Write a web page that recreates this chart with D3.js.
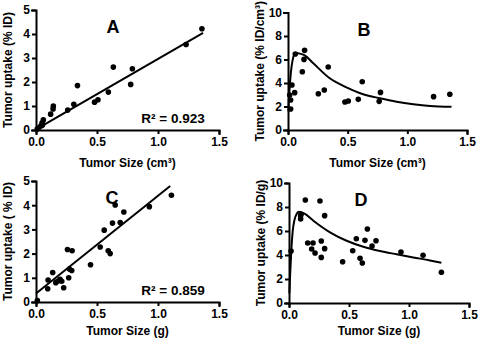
<!DOCTYPE html>
<html>
<head>
	<meta charset="utf-8">
	<title>Tumor uptake vs tumor size</title>
	<style>
		body { margin: 0; background: white; }
		svg { display: block; font-family: 'Liberation Sans', Arial, sans-serif; font-weight: bold; }
		.axis path, .axis line { stroke: black; stroke-width: 2; }
		.axis text { font-size: 12px; font-weight: bold; font-family: 'Liberation Sans', Arial, sans-serif; }
	</style>
</head>
<body>
<svg width="480" height="340"></svg>
<script src="https://d3js.org/d3.v7.min.js"></script>
<script>

	// ---- data ----
	// A: uptake (% ID) vs size (cm3)
	let sizeA = [1.36, 1.23, 0.79, 0.776, 0.634, 0.593, 0.508, 0.48, 0.34, 0.31, 0.26, 0.142, 0.14, 0.12, 0.06, 0.052, 0.04, 0.02, 0.01, 0.05]
	let uptakeA = [4.22, 3.56, 2.55, 1.9, 2.62, 1.58, 1.26, 1.16, 1.85, 1.07, 0.83, 1.0, 0.88, 0.66, 0.42, 0.2, 0.17, 0.08, 0.04, 0.3]
	let fitA = [[0, 0.03], [1.37, 4.05]]

	// B: uptake (% ID/cm3) vs size (cm3)
	let sizeB = [1.356, 1.22, 0.775, 0.764, 0.622, 0.589, 0.505, 0.477, 0.337, 0.304, 0.254, 0.139, 0.134, 0.12, 0.061, 0.056, 0.033, 0.022, 0.022, 0.014]
	let uptakeB = [3.04, 2.84, 3.2, 2.44, 4.11, 2.61, 2.47, 2.38, 5.36, 3.4, 3.09, 6.78, 6.01, 4.96, 6.47, 3.18, 3.83, 2.55, 1.79, 2.98]
	let curveBx = [0.003, 0.01, 0.024, 0.038, 0.052, 0.07, 0.1, 0.14, 0.21, 0.35, 0.49, 0.63, 0.77, 0.91, 1.05, 1.19, 1.37]
	let curveBy = [1.6, 3.0, 4.9, 5.9, 6.4, 6.55, 6.5, 6.35, 5.7, 4.4, 3.63, 3.04, 2.7, 2.41, 2.2, 2.05, 1.97]

	// C: uptake (% ID) vs size (g)
	let sizeC = [1.11, 0.929, 0.72, 0.69, 0.649, 0.627, 0.559, 0.526, 0.608, 0.592, 0.447, 0.296, 0.258, 0.293, 0.274, 0.268, 0.227, 0.211, 0.197, 0.178, 0.162, 0.137, 0.099, 0.096, 0.011]
	let uptakeC = [4.41, 3.94, 3.72, 3.28, 4.01, 3.26, 2.97, 2.27, 2.0, 2.12, 1.54, 2.12, 2.17, 1.3, 1.36, 1.0, 0.59, 0.86, 0.94, 0.86, 0.8, 1.22, 0.91, 0.55, 0.06]
	let fitC = [[0, 0.35], [1.1, 4.79]]

	// D: uptake (% ID/g) vs size (g)
	let sizeD = [1.27, 1.117, 0.933, 0.725, 0.692, 0.653, 0.633, 0.611, 0.592, 0.561, 0.531, 0.447, 0.297, 0.297, 0.269, 0.269, 0.258, 0.217, 0.2, 0.189, 0.156, 0.136, 0.097, 0.097, 0.1, 0.017]
	let uptakeD = [2.56, 3.97, 4.25, 5.19, 4.75, 6.17, 5.22, 3.33, 3.72, 5.36, 4.36, 3.44, 7.28, 4.53, 5.17, 3.8, 8.5, 4.17, 5.0, 4.5, 5.0, 8.58, 7.28, 7.0, 7.4, 4.33]
	let curveDx = [0.003, 0.01, 0.02, 0.03, 0.045, 0.065, 0.083, 0.133, 0.203, 0.342, 0.48, 0.619, 0.758, 0.897, 1.036, 1.175, 1.27]
	let curveDy = [0.8, 2.5, 4.5, 5.9, 6.9, 7.45, 7.6, 7.42, 6.86, 5.89, 5.19, 4.69, 4.33, 4.06, 3.8, 3.55, 3.36]

	let xTicks = [0, 0.5, 1.0, 1.5]
	let yTicks5 = [0, 1, 2, 3, 4, 5]
	let yTicks10 = [0, 2, 4, 6, 8, 10]

	let svg = d3.select('svg')

	// one panel: left/right/top/bottom is the plotting area in pixels
	function panel(opt) {
		let x = d3.scaleLinear().domain([0, 1.5]).range([opt.left, opt.right])
		let y = d3.scaleLinear().domain([0, opt.ymax]).range([opt.bottom, opt.top])

		let g = svg.append('g')

		g.append('g')
			.attr('class', 'axis')
			.attr('transform', `translate(0,${opt.bottom})`)
			.call(d3.axisBottom(x).tickValues(xTicks).tickFormat(d3.format('.1f')).tickSizeOuter(0).tickSize(4).tickPadding(3))

		g.append('g')
			.attr('class', 'axis')
			.attr('transform', `translate(${opt.left},0)`)
			.call(d3.axisLeft(y).tickValues(opt.yTicks).tickFormat(d3.format('d')).tickSizeOuter(0).tickSize(4).tickPadding(2))

		g.selectAll('.axis .domain').attr('stroke-linecap', 'square')

		// fitted line / curve
		let line = d3.line()
			.x(d => x(d[0]))
			.y(d => y(d[1]))
			.curve(opt.smooth ? d3.curveMonotoneX : d3.curveLinear)

		g.append('path')
			.datum(opt.fit)
			.attr('d', line)
			.style('fill', 'none')
			.style('stroke', 'black')
			.style('stroke-width', 2)

		g.append('g')
			.selectAll('circle')
			.data(opt.xs.map((v, i) => [v, opt.ys[i]]))
			.join('circle')
			.attr('cx', d => x(d[0]))
			.attr('cy', d => y(d[1]))
			.attr('r', 2.8)
			.style('fill', 'black')

		// titles
		g.append('text')
			.attr('x', (opt.left + opt.right) / 2)
			.attr('y', opt.bottom + opt.titleGap)
			.attr('text-anchor', 'middle')
			.style('font-size', '12px')
			.text(opt.xTitle)

		g.append('text')
			.attr('transform', `translate(${opt.left - 24},${(opt.top + opt.bottom) / 2}) rotate(-90)`)
			.attr('text-anchor', 'middle')
			.style('font-size', '12px')
			.text(opt.yTitle)

		g.append('text')
			.attr('x', opt.letterX)
			.attr('y', opt.top + 23)
			.attr('text-anchor', 'middle')
			.style('font-size', '18px')
			.text(opt.letter)

		if (opt.r2) {
			g.append('text')
				.attr('x', opt.right - 46)
				.attr('y', opt.bottom - 7)
				.attr('text-anchor', 'middle')
				.style('font-size', '13.5px')
				.text(opt.r2)
		}
	}

	panel({ left: 36, right: 219, top: 10, bottom: 130, ymax: 5, yTicks: yTicks5, titleGap: 37,
		xs: sizeA, ys: uptakeA, fit: fitA, smooth: false, letter: 'A', letterX: 113,
		xTitle: 'Tumor Size (cm³)', yTitle: 'Tumor uptake (% ID)', r2: 'R² = 0.923' })

	panel({ left: 288, right: 467, top: 12.5, bottom: 130, ymax: 10, yTicks: yTicks10, titleGap: 37,
		xs: sizeB, ys: uptakeB, fit: curveBx.map((v, i) => [v, curveBy[i]]), smooth: true, letter: 'B', letterX: 364,
		xTitle: 'Tumor Size (cm³)', yTitle: 'Tumor uptake (% ID/cm³)' })

	panel({ left: 36, right: 219, top: 181, bottom: 302, ymax: 5, yTicks: yTicks5, titleGap: 33,
		xs: sizeC, ys: uptakeC, fit: fitC, smooth: false, letter: 'C', letterX: 112,
		xTitle: 'Tumor Size (g)', yTitle: 'Tumor uptake ( % ID)', r2: 'R² = 0.859' })

	panel({ left: 289, right: 469, top: 183, bottom: 303, ymax: 10, yTicks: yTicks10, titleGap: 32,
		xs: sizeD, ys: uptakeD, fit: curveDx.map((v, i) => [v, curveDy[i]]), smooth: true, letter: 'D', letterX: 361,
		xTitle: 'Tumor Size (g)', yTitle: 'Tumor uptake (% ID/g)' })

</script>
</body>
</html>
